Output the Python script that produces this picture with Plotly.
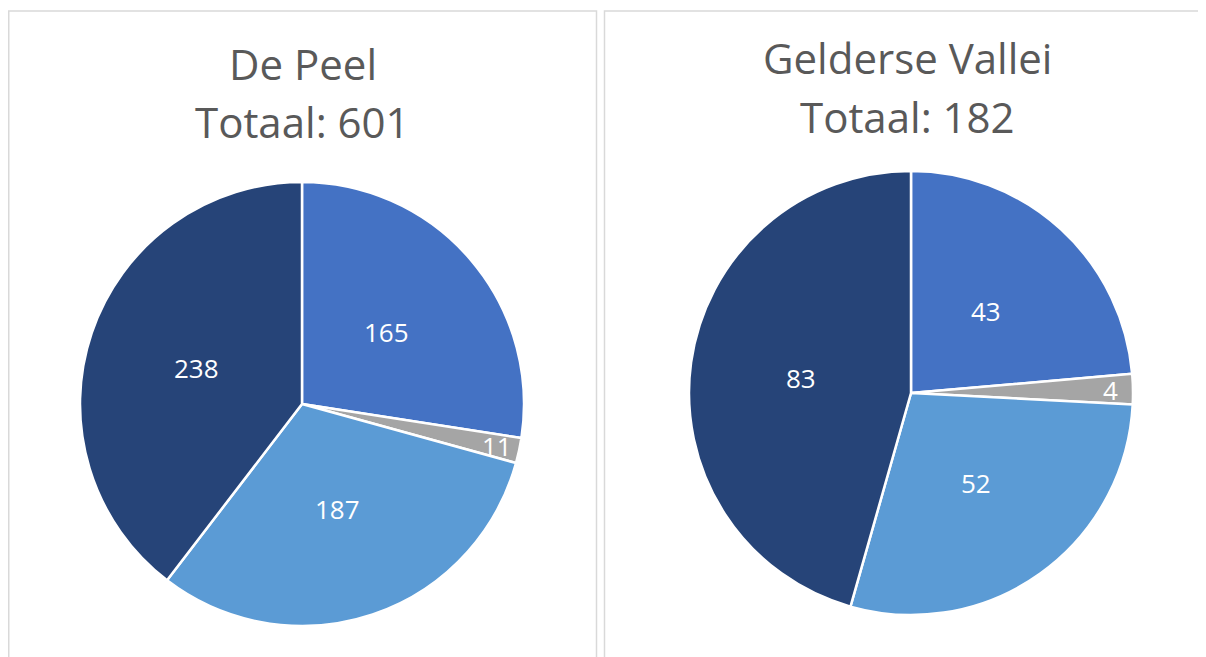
import math
import plotly.graph_objects as go

# Data
categories = ["Categorie A", "Categorie B", "Categorie C", "Categorie D"]
de_peel_values = [165, 11, 187, 238]
gelderse_vallei_values = [43, 4, 52, 83]
region_names = ["De Peel", "Gelderse Vallei"]
colors = ["#4472C4", "#A5A5A5", "#5B9BD5", "#264478"]

# The page body has an 8px margin: work in screen pixels and convert.
OX, OY = 8, 8
W, H = 1206 - OX, 657 - OY


def sx(px):
    return (px - OX) / W


def sy(py):
    return (H - (py - OY)) / H


pies = [
    dict(name=region_names[0], values=de_peel_values, cx=302, cy=404, r=222,
         tx=302.5, ty1=63, ty2=121),
    dict(name=region_names[1], values=gelderse_vallei_values, cx=911, cy=393, r=222,
         tx=907, ty1=57, ty2=116),
]

fig = go.Figure()
annotations = []
label_font = dict(family="Open Sans", size=26, color="white")
title_font = dict(family="Open Sans", size=42, color="#595959")

for p in pies:
    vals = p["values"]
    tot = sum(vals)
    fig.add_trace(go.Pie(
        values=vals,
        labels=categories,
        textinfo="none",
        sort=False,
        direction="clockwise",
        rotation=0,
        marker=dict(colors=colors, line=dict(color="white", width=2.5)),
        showlegend=False,
        hoverinfo="label+value",
        domain=dict(x=[sx(p["cx"] - p["r"]), sx(p["cx"] + p["r"])],
                    y=[sy(p["cy"] + p["r"]), sy(p["cy"] - p["r"])]),
    ))
    # data labels: centred on each slice's bisector (thin slices near the rim)
    cum = 0
    for v in vals:
        ang = math.radians((cum + v / 2) / tot * 360)
        frac = 0.9 if v / tot < 0.03 else 0.5
        d = frac * p["r"]
        annotations.append(dict(
            text=str(v), x=sx(p["cx"] + d * math.sin(ang)),
            y=sy(p["cy"] - d * math.cos(ang)),
            xref="paper", yref="paper", xanchor="center", yanchor="middle",
            showarrow=False, font=label_font,
        ))
        cum += v
    # titles
    annotations.append(dict(
        text=p["name"], x=sx(p["tx"]), y=sy(p["ty1"]),
        xref="paper", yref="paper", xanchor="center", yanchor="middle",
        showarrow=False, font=title_font,
    ))
    annotations.append(dict(
        text=f"Totaal: {tot}", x=sx(p["tx"]), y=sy(p["ty2"]),
        xref="paper", yref="paper", xanchor="center", yanchor="middle",
        showarrow=False, font=title_font,
    ))

# Panel borders
shapes = [
    dict(type="rect", xref="paper", yref="paper",
         x0=sx(8.75), x1=sx(596.5), y0=-0.05, y1=sy(11),
         line=dict(color="#D9D9D9", width=1.5), fillcolor="rgba(0,0,0,0)"),
    dict(type="rect", xref="paper", yref="paper",
         x0=sx(604.5), x1=1.05, y0=-0.05, y1=sy(11),
         line=dict(color="#D9D9D9", width=1.5), fillcolor="rgba(0,0,0,0)"),
]

fig.update_layout(
    width=W, height=H,
    margin=dict(l=0, r=0, t=0, b=0),
    paper_bgcolor="white",
    plot_bgcolor="white",
    shapes=shapes,
    annotations=annotations,
)

fig.write_html("out.html")
